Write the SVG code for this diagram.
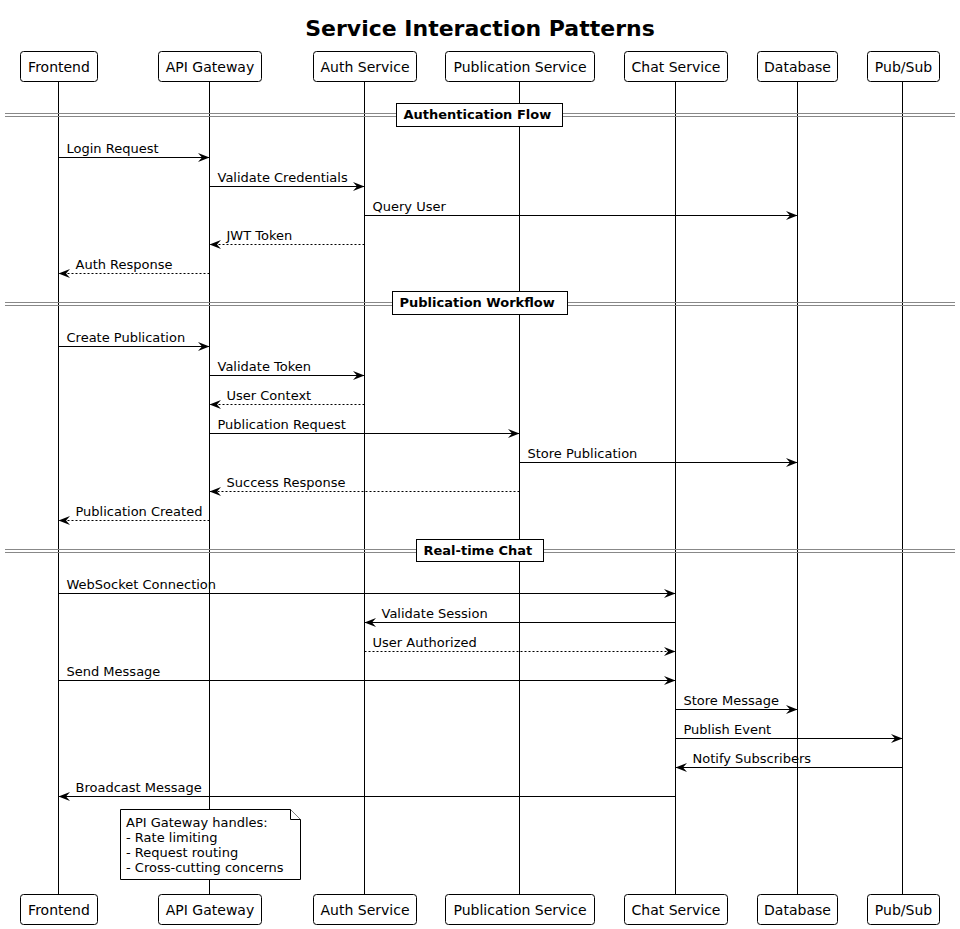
<svg xmlns="http://www.w3.org/2000/svg" width="960" height="929" viewBox="0 0 960 929">
<style>
text{font-family:"DejaVu Sans","Liberation Sans",sans-serif;fill:#000}
.title{font-size:22px;font-weight:bold}
.pl{font-size:14px;text-anchor:middle}
.pbox{fill:#fff;stroke:#000;stroke-width:1}
.life{stroke:#000;stroke-width:1}
.msg{stroke:#000;stroke-width:1;fill:none;marker-end:url(#ah)}
.ret{stroke-dasharray:2,2}
.ml{font-size:13px}
.div{stroke:#888;stroke-width:1}
.dbox{fill:#fff;stroke:#000;stroke-width:1}
.dl{font-size:13px;font-weight:bold}
.note{fill:#fff;stroke:#000;stroke-width:1}
.nt{font-size:13px}
</style>
<defs>
<marker id="ah" viewBox="-13 -6 14 12" refX="0" refY="0" markerWidth="14" markerHeight="12" orient="auto" markerUnits="userSpaceOnUse">
<path d="M0,0 L-11.5,-4.5 L-7.5,0 L-11.5,4.5 Z" fill="#000" stroke="none"/>
</marker>
</defs>
<rect width="960" height="929" fill="#fff"/>
<text class="title" x="480" y="35.5" text-anchor="middle">Service Interaction Patterns</text>

<g id="lifelines">
<line class="life" x1="58.5" y1="81" x2="58.5" y2="894"/>
<line class="life" x1="209.5" y1="81" x2="209.5" y2="894"/>
<line class="life" x1="364.5" y1="81" x2="364.5" y2="894"/>
<line class="life" x1="519.5" y1="81" x2="519.5" y2="894"/>
<line class="life" x1="675.5" y1="81" x2="675.5" y2="894"/>
<line class="life" x1="797.5" y1="81" x2="797.5" y2="894"/>
<line class="life" x1="902.5" y1="81" x2="902.5" y2="894"/>
</g>

<g id="frontend">
<rect class="pbox" x="20.5" y="51.5" width="77" height="30" rx="3"/><text class="pl" x="59" y="72">Frontend</text>
<rect class="pbox" x="20.5" y="894.5" width="77" height="30" rx="3"/><text class="pl" x="59" y="915">Frontend</text>
</g>
<g id="api-gateway">
<rect class="pbox" x="158.5" y="51.5" width="103" height="30" rx="3"/><text class="pl" x="210" y="72">API Gateway</text>
<rect class="pbox" x="158.5" y="894.5" width="103" height="30" rx="3"/><text class="pl" x="210" y="915">API Gateway</text>
</g>
<g id="auth-service">
<rect class="pbox" x="313.5" y="51.5" width="103" height="30" rx="3"/><text class="pl" x="365" y="72">Auth Service</text>
<rect class="pbox" x="313.5" y="894.5" width="103" height="30" rx="3"/><text class="pl" x="365" y="915">Auth Service</text>
</g>
<g id="publication-service">
<rect class="pbox" x="445.5" y="51.5" width="149" height="30" rx="3"/><text class="pl" x="520" y="72">Publication Service</text>
<rect class="pbox" x="445.5" y="894.5" width="149" height="30" rx="3"/><text class="pl" x="520" y="915">Publication Service</text>
</g>
<g id="chat-service">
<rect class="pbox" x="624.5" y="51.5" width="103" height="30" rx="3"/><text class="pl" x="676" y="72">Chat Service</text>
<rect class="pbox" x="624.5" y="894.5" width="103" height="30" rx="3"/><text class="pl" x="676" y="915">Chat Service</text>
</g>
<g id="database">
<rect class="pbox" x="757.5" y="51.5" width="80" height="30" rx="3"/><text class="pl" x="797.5" y="72">Database</text>
<rect class="pbox" x="757.5" y="894.5" width="80" height="30" rx="3"/><text class="pl" x="797.5" y="915">Database</text>
</g>
<g id="pubsub">
<rect class="pbox" x="867.5" y="51.5" width="72" height="30" rx="3"/><text class="pl" x="903.5" y="72">Pub/Sub</text>
<rect class="pbox" x="867.5" y="894.5" width="72" height="30" rx="3"/><text class="pl" x="903.5" y="915">Pub/Sub</text>
</g>

<g id="dividers">
<line class="div" x1="5" y1="113.5" x2="955" y2="113.5"/><line class="div" x1="5" y1="116.5" x2="955" y2="116.5"/>
<rect class="dbox" x="396.5" y="103.5" width="166" height="23"/><text class="dl" x="403.5" y="119">Authentication Flow</text>
<line class="div" x1="5" y1="302.5" x2="955" y2="302.5"/><line class="div" x1="5" y1="305.5" x2="955" y2="305.5"/>
<rect class="dbox" x="392.5" y="291.5" width="175" height="23"/><text class="dl" x="399.5" y="307">Publication Workflow</text>
<line class="div" x1="5" y1="549.5" x2="955" y2="549.5"/><line class="div" x1="5" y1="552.5" x2="955" y2="552.5"/>
<rect class="dbox" x="416.5" y="539.5" width="127" height="22"/><text class="dl" x="423.5" y="555">Real-time Chat</text>
</g>

<g id="connectors">
<line class="msg" x1="58.5" y1="157.5" x2="209.5" y2="157.5"/><text class="ml" x="66.5" y="152.5">Login Request</text>
<line class="msg" x1="209.5" y1="186.5" x2="364.5" y2="186.5"/><text class="ml" x="217.5" y="181.5">Validate Credentials</text>
<line class="msg" x1="364.5" y1="215.5" x2="797.5" y2="215.5"/><text class="ml" x="372.5" y="210.5">Query User</text>
<line class="msg ret" x1="364.5" y1="244.5" x2="209.5" y2="244.5"/><text class="ml" x="226.5" y="239.5">JWT Token</text>
<line class="msg ret" x1="209.5" y1="273.5" x2="58.5" y2="273.5"/><text class="ml" x="75.5" y="268.5">Auth Response</text>

<line class="msg" x1="58.5" y1="346.5" x2="209.5" y2="346.5"/><text class="ml" x="66.5" y="341.5">Create Publication</text>
<line class="msg" x1="209.5" y1="375.5" x2="364.5" y2="375.5"/><text class="ml" x="217.5" y="370.5">Validate Token</text>
<line class="msg ret" x1="364.5" y1="404.5" x2="209.5" y2="404.5"/><text class="ml" x="226.5" y="399.5">User Context</text>
<line class="msg" x1="209.5" y1="433.5" x2="519.5" y2="433.5"/><text class="ml" x="217.5" y="428.5">Publication Request</text>
<line class="msg" x1="519.5" y1="462.5" x2="797.5" y2="462.5"/><text class="ml" x="527.5" y="457.5">Store Publication</text>
<line class="msg ret" x1="519.5" y1="491.5" x2="209.5" y2="491.5"/><text class="ml" x="226.5" y="486.5">Success Response</text>
<line class="msg ret" x1="209.5" y1="520.5" x2="58.5" y2="520.5"/><text class="ml" x="75.5" y="515.5">Publication Created</text>

<line class="msg" x1="58.5" y1="593.5" x2="675.5" y2="593.5"/><text class="ml" x="66.5" y="588.5">WebSocket Connection</text>
<line class="msg" x1="675.5" y1="622.5" x2="364.5" y2="622.5"/><text class="ml" x="381.5" y="617.5">Validate Session</text>
<line class="msg ret" x1="364.5" y1="651.5" x2="675.5" y2="651.5"/><text class="ml" x="372.5" y="646.5">User Authorized</text>
<line class="msg" x1="58.5" y1="680.5" x2="675.5" y2="680.5"/><text class="ml" x="66.5" y="675.5">Send Message</text>
<line class="msg" x1="675.5" y1="709.5" x2="797.5" y2="709.5"/><text class="ml" x="683.5" y="704.5">Store Message</text>
<line class="msg" x1="675.5" y1="738.5" x2="902.5" y2="738.5"/><text class="ml" x="683.5" y="733.5">Publish Event</text>
<line class="msg" x1="902.5" y1="767.5" x2="675.5" y2="767.5"/><text class="ml" x="692.5" y="762.5">Notify Subscribers</text>
<line class="msg" x1="675.5" y1="796.5" x2="58.5" y2="796.5"/><text class="ml" x="75.5" y="791.5">Broadcast Message</text>
</g>

<g id="note-api-gateway">
<path class="note" d="M120.5,809.5 L290.5,809.5 L300.5,819.5 L300.5,879.5 L120.5,879.5 Z"/>
<path class="note" d="M290.5,809.5 L290.5,819.5 L300.5,819.5"/>
<text class="nt" x="126" y="827">API Gateway handles:</text>
<text class="nt" x="126" y="842">- Rate limiting</text>
<text class="nt" x="126" y="857">- Request routing</text>
<text class="nt" x="126" y="872">- Cross-cutting concerns</text>
</g>
</svg>
